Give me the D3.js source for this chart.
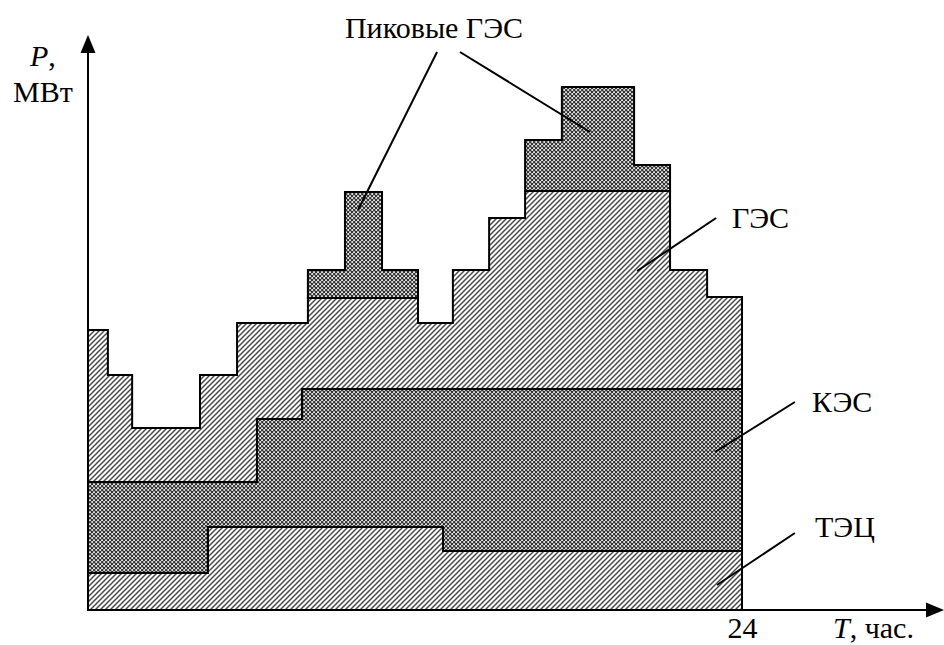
<!DOCTYPE html>
<html>
<head>
<meta charset="utf-8">
<script src="https://cdn.jsdelivr.net/npm/d3@7"></script>
<style>
  body { margin: 0; background: #fff; }
  text { font-family: "Liberation Serif", "DejaVu Serif", "Noto Serif", serif; font-size: 30px; fill: #000; }
</style>
</head>
<body>
<svg id="chart" width="944" height="645"></svg>
<script>
// суточный график нагрузки (P в условных МВт, T в часах)
var loadHours = [0, 0.73, 1.62, 4.11, 5.47, 8.07, 9.43, 10.79, 12.11, 13.39, 14.72, 16.04, 17.39, 20.04, 21.36, 22.72, 24];
var loadP = [280, 235, 182, 235, 287, 340, 418, 340, 287, 340, 392, 470, 523, 445, 340, 313];

// ТЭЦ (верхняя граница)
var tecHours = [0, 4.4, 13.03, 24];
var tecP = [37, 83, 59];

// КЭС (верхняя граница)
var kesHours = [0, 6.2, 7.85, 24];
var kesP = [128, 191, 221];

// пиковые ГЭС: интервалы и нижняя граница
var peakStart = [8.07, 16.04];
var peakEnd = [12.11, 21.36];
var peakBase = [312, 419];

// подписи и выноски (часы, МВт)
var labelNames = ["Пиковые ГЭС", "ГЭС", "КЭС", "ТЭЦ"];
var labelT = [9.43, 23.63, 26.57, 26.68];
var labelP = [572, 382, 198, 73];
var leaderFrom = [[12.81, 558], [13.65, 558], [23.05, 392], [25.94, 208], [25.94, 77]];
var leaderTo = [[9.91, 400], [18.42, 478], [20.15, 339], [23.01, 158], [23.08, 25]];

var svg = d3.select("#chart");
var x = d3.scaleLinear().domain([0, 24]).range([88, 742]);
var y = d3.scaleLinear().domain([0, 600]).range([610, 10]);

// patterns
var defs = svg.append("defs");
var hatch = defs.append("pattern")
    .attr("id", "hatch")
    .attr("patternUnits", "userSpaceOnUse")
    .attr("width", 5).attr("height", 5);
hatch.append("rect").attr("width", 5).attr("height", 5).attr("fill", "#fff");
hatch.append("path")
    .attr("d", "M-1,1L1,-1M0,5L5,0M4,6L6,4")
    .attr("stroke", "#4a4a4a")
    .attr("stroke-width", 1.5);

var cross = defs.append("pattern")
    .attr("id", "cross")
    .attr("patternUnits", "userSpaceOnUse")
    .attr("width", 4).attr("height", 4);
cross.append("rect").attr("width", 4).attr("height", 4).attr("fill", "#a6a6a6");
cross.append("path")
    .attr("d", "M0,0L4,4M4,0L0,4")
    .attr("stroke", "#151515")
    .attr("stroke-width", 0.8);
cross.append("rect").attr("x", 1.4).attr("y", -0.1).attr("width", 1.2).attr("height", 1.2).attr("fill", "#fff");
cross.append("rect").attr("x", -0.1).attr("y", 1.4).attr("width", 1.2).attr("height", 1.2).attr("fill", "#fff");

// helpers
function stepAt(hours, vals, t, closing) {
    if (closing) t = t - 1e-6;
    for (var i = 0; i < vals.length; i++) {
        if (t >= hours[i] && t < hours[i + 1]) return vals[i];
    }
    return vals[vals.length - 1];
}
function loadAt(t, c) { return stepAt(loadHours, loadP, t, c); }
function tecAt(t, c) { return stepAt(tecHours, tecP, t, c); }
function kesAt(t, c) { return stepAt(kesHours, kesP, t, c); }
function gesAt(t, c) {
    var tt = c ? t - 1e-6 : t;
    for (var i = 0; i < peakStart.length; i++) {
        if (tt >= peakStart[i] && tt < peakEnd[i]) return Math.min(loadAt(t, c), peakBase[i]);
    }
    return loadAt(t, c);
}

function grid(lo, hi) {
    var all = [lo, hi].concat(loadHours, tecHours, kesHours, peakStart, peakEnd);
    var g = Array.from(new Set(all)).filter(function(t) { return t >= lo && t <= hi; });
    g.sort(function(a, b) { return a - b; });
    return g.map(function(t, i) { return {t: t, last: i == g.length - 1}; });
}

var area = d3.area()
    .curve(d3.curveStepAfter)
    .x(function(d) { return x(d.t); });

function drawLayer(data, lower, upper, fill) {
    area.y0(function(d) { return y(lower(d.t, d.last)); })
        .y1(function(d) { return y(upper(d.t, d.last)); });
    svg.append("path")
        .datum(data)
        .attr("d", area)
        .attr("fill", "url(#" + fill + ")")
        .attr("stroke", "#000")
        .attr("stroke-width", 2)
        .attr("stroke-linejoin", "miter");
}

var full = grid(0, 24);
drawLayer(full, function() { return 0; }, tecAt, "hatch");
drawLayer(full, tecAt, kesAt, "cross");
drawLayer(full, kesAt, gesAt, "hatch");
for (var i = 0; i < peakStart.length; i++) {
    drawLayer(grid(peakStart[i], peakEnd[i]), gesAt, loadAt, "cross");
}

// axes
svg.append("line")
    .attr("x1", x(0)).attr("y1", y(0))
    .attr("x2", x(0)).attr("y2", 50)
    .attr("stroke", "#000").attr("stroke-width", 2);
svg.append("path")
    .attr("d", "M" + x(0) + ",35L" + (x(0) - 7.5) + ",53L" + (x(0) + 7.5) + ",53Z")
    .attr("fill", "#000");
svg.append("line")
    .attr("x1", x(0)).attr("y1", y(0))
    .attr("x2", 930).attr("y2", y(0))
    .attr("stroke", "#000").attr("stroke-width", 2);
svg.append("path")
    .attr("d", "M944," + y(0) + "L926," + (y(0) - 7.5) + "L926," + (y(0) + 7.5) + "Z")
    .attr("fill", "#000");

var xAxis = svg.append("g")
    .attr("transform", "translate(0," + y(0) + ")")
    .call(d3.axisBottom(x).tickValues([24]).tickSize(0).tickPadding(7));
xAxis.select(".domain").remove();
xAxis.attr("font-family", null).attr("font-size", null);
xAxis.selectAll("text")
    .attr("dy", "0.71em");

// axis titles
var tTitle = svg.append("text").attr("x", 833).attr("y", 638);
tTitle.append("tspan").attr("font-style", "italic").text("T");
tTitle.append("tspan").text(", час.");

var pTitle = svg.append("text").attr("x", 30).attr("y", 66);
pTitle.append("tspan").attr("font-style", "italic").text("P");
pTitle.append("tspan").text(",");
svg.append("text").attr("x", 13).attr("y", 102).text("МВт");

// labels and leaders
svg.selectAll(".label")
    .data(labelNames)
    .enter().append("text")
    .attr("class", "label")
    .attr("x", function(d, i) { return x(labelT[i]); })
    .attr("y", function(d, i) { return y(labelP[i]); })
    .text(function(d) { return d; });

svg.selectAll(".leader")
    .data(leaderFrom)
    .enter().append("line")
    .attr("class", "leader")
    .attr("x1", function(d) { return x(d[0]); })
    .attr("y1", function(d) { return y(d[1]); })
    .attr("x2", function(d, i) { return x(leaderTo[i][0]); })
    .attr("y2", function(d, i) { return y(leaderTo[i][1]); })
    .attr("stroke", "#000")
    .attr("stroke-width", 2);
</script>
</body>
</html>
